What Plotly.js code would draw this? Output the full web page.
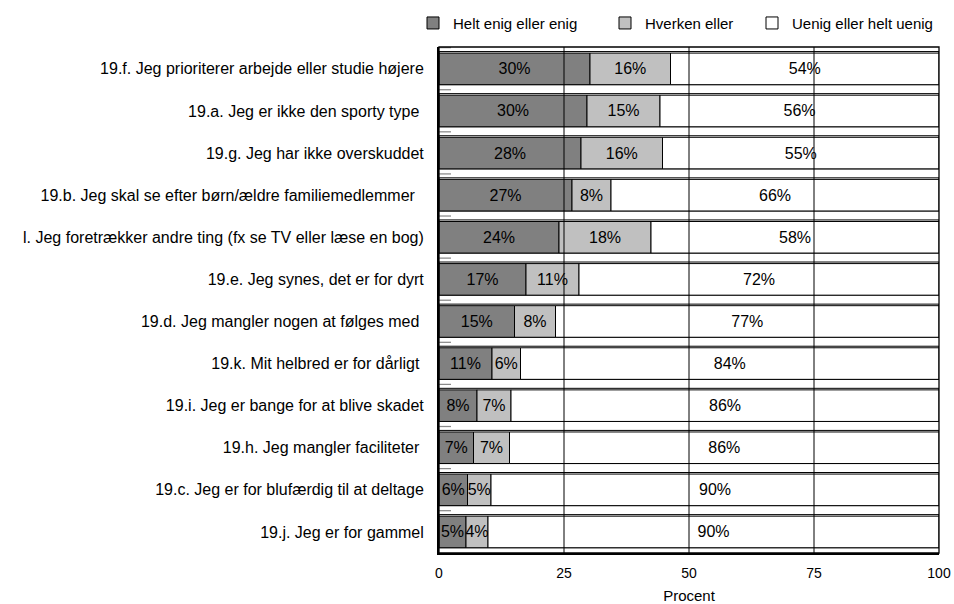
<!DOCTYPE html>
<html>
<head>
<meta charset="utf-8">
<script src="https://cdn.plot.ly/plotly-3.0.1.min.js"></script>
<style>html,body{margin:0;padding:0;background:#fff;}#chart{width:954px;height:604px;}</style>
</head>
<body>
<div id="chart"></div>
<script>
const categories = [
  "19.f. Jeg prioriterer arbejde eller studie højere",
  "19.a. Jeg er ikke den sporty type\u00a0",
  "19.g. Jeg har ikke overskuddet",
  "19.b. Jeg skal se efter børn/ældre familiemedlemmer\u00a0\u00a0",
  "l. Jeg foretrækker andre ting (fx se TV eller læse en bog)",
  "19.e. Jeg synes, det er for dyrt",
  "19.d. Jeg mangler nogen at følges med\u00a0",
  "19.k. Mit helbred er for dårligt\u00a0",
  "19.i. Jeg er bange for at blive skadet",
  "19.h. Jeg mangler faciliteter\u00a0",
  "19.c. Jeg er for blufærdig til at deltage",
  "19.j. Jeg er for gammel"
];
const seriesNames = ["Helt enig eller enig", "Hverken eller", "Uenig eller helt uenig"];
const agree    = [30.2, 29.6, 28.4, 26.6, 24.0, 17.4, 15.1, 10.6, 7.6, 6.9, 5.7, 5.4];
const neutral  = [16.1, 14.6, 16.3,  7.8, 18.4, 10.6,  8.2,  5.7, 6.8, 7.2, 4.7, 4.4];
const disagree = [53.7, 55.8, 55.3, 65.6, 57.6, 72.0, 76.7, 83.7, 85.6, 85.9, 89.6, 90.2];
const stubs    = [2.4, 2.4, 2.4, 2.4, 2.4, 2.4, 2.4, 2.4, 2.4, 2.4, 2.4, 2.4];
const xTicks = [0, 25, 50, 75, 100];

const FONT = "Liberation Sans, Arial, sans-serif";
const pct = a => a.map(v => Math.round(v) + "%");
const base2 = agree.map((v, i) => v + neutral[i]);
const totals = agree.map((v, i) => v + neutral[i] + disagree[i]);

const outline = {color: "#000", width: 1};
const common = {
  type: "bar", orientation: "h", y: categories,
  textposition: "inside", insidetextanchor: "middle", constraintext: "none",
  textangle: 0, insidetextfont: {family: FONT, size: 16, color: "#000"},
  hoverinfo: "skip", width: 0.75, offset: -0.375
};

const traces = [
  {type: "bar", orientation: "h", y: categories, x: totals, base: 0,
   width: 0.787, offset: -0.412, marker: {color: "#fff", line: outline},
   showlegend: false, hoverinfo: "skip"},
  {type: "bar", orientation: "h", y: categories, x: stubs, base: 0,
   width: 0.03, offset: -0.52, marker: {color: "#8a8a8a", line: {width: 0}},
   showlegend: false, hoverinfo: "skip"},
  Object.assign({}, common, {name: seriesNames[0], x: agree, base: 0, text: pct(agree),
    marker: {color: "#808080", line: outline}, legend: "legend"}),
  Object.assign({}, common, {name: seriesNames[1], x: neutral, base: agree, text: pct(neutral),
    marker: {color: "#c0c0c0", line: outline}, legend: "legend2"}),
  Object.assign({}, common, {name: seriesNames[2], x: disagree, base: base2, text: pct(disagree),
    marker: {color: "#ffffff", line: outline}, legend: "legend3"})
];

const shapes = xTicks.filter(t => t > 0 && t < 100).map(t => ({
  type: "line", xref: "x", yref: "paper", x0: t, x1: t, y0: 0, y1: 1,
  line: {color: "#000", width: 1}, layer: "above"
}));
shapes.push({type: "rect", xref: "paper", yref: "paper", x0: 0, x1: 1, y0: 0, y1: 1,
  line: {color: "#000", width: 1.3}, layer: "above"});

const legFont = {family: FONT, size: 15, color: "#000"};
const mkLeg = x => ({orientation: "h", x: x, xanchor: "left", y: 1.047, yanchor: "middle",
  font: legFont, bgcolor: "rgba(0,0,0,0)", borderwidth: 0});

const layout = {
  width: 954, height: 604,
  margin: {l: 439, r: 15, t: 47, b: 51, autoexpand: false},
  paper_bgcolor: "#fff", plot_bgcolor: "#fff",
  barmode: "overlay",
  font: {family: FONT, size: 15, color: "#000"},
  showlegend: true,
  legend: mkLeg(-0.052),
  legend2: mkLeg(0.332),
  legend3: mkLeg(0.626),
  xaxis: {range: [0, 100], tickvals: xTicks, ticktext: xTicks.map(String),
    showgrid: false, zeroline: false, showline: true, linecolor: "#000", linewidth: 2,
    ticks: "", tickfont: {family: FONT, size: 14, color: "#000"},
    ticklabelstandoff: 6, fixedrange: true, automargin: false,
    title: {text: "Procent", font: {family: FONT, size: 15, color: "#000"}, standoff: 12}},
  yaxis: {type: "category", autorange: "reversed", showgrid: false, zeroline: false,
    showline: true, linecolor: "#000", linewidth: 2, ticks: "",
    tickfont: {family: FONT, size: 16, color: "#000"}, ticklabelstandoff: 10,
    fixedrange: true, automargin: false},
  shapes: shapes
};

Plotly.newPlot("chart", traces, layout, {displayModeBar: false, staticPlot: true});
</script>
</body>
</html>
